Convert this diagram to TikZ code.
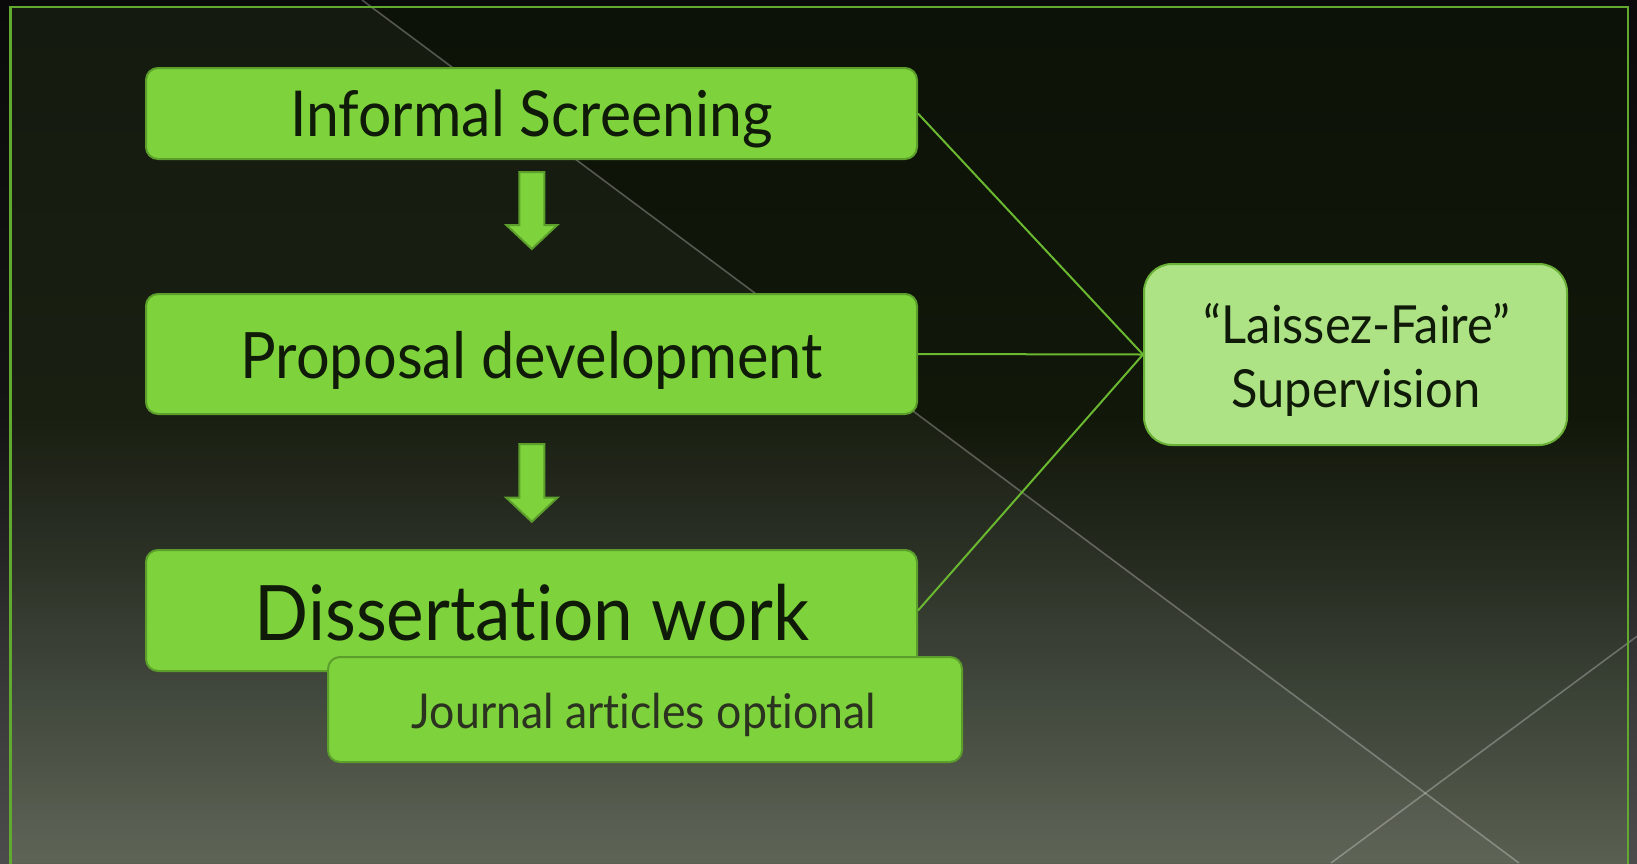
\documentclass[tikz,border=0pt]{standalone}
\usepackage{fontspec}
\setmainfont{Lato}[FakeStretch=0.93,Ligatures=NoCommon]
\usetikzlibrary{calc}
\definecolor{boxfill}{HTML}{7ED23C}
\definecolor{boxline}{HTML}{5C9E2C}
\definecolor{supfill}{HTML}{AEE385}
\definecolor{supline}{HTML}{6AAF36}
\definecolor{framegreen}{HTML}{62A92F}
\definecolor{linkgreen}{HTML}{6AB830}
\definecolor{txtdark}{HTML}{0F1A08}
\definecolor{txtgray}{HTML}{2B3320}
\definecolor{inA}{HTML}{596051}
\definecolor{inB}{HTML}{3C4337}
\definecolor{inC}{HTML}{262B20}
\definecolor{inD}{HTML}{111709}
\definecolor{inE}{HTML}{0C1207}
\definecolor{outA}{HTML}{4C4C4C}
\definecolor{outB}{HTML}{3A3A3A}
\definecolor{outC}{HTML}{262626}
\definecolor{outD}{HTML}{141414}
\definecolor{outE}{HTML}{0A0A0A}
\pgfdeclareverticalshading{insidebg}{100bp}{color(0bp)=(inA); color(25bp)=(inA); color(34.5bp)=(inB); color(42.5bp)=(inC); color(51bp)=(inD); color(75bp)=(inE); color(100bp)=(inE)}
\pgfdeclareverticalshading{outsidebg}{100bp}{color(0bp)=(outA); color(25bp)=(outA); color(34.5bp)=(outB); color(42.5bp)=(outC); color(51bp)=(outD); color(75bp)=(outE); color(100bp)=(outE)}
\tikzset{
  box/.style={draw=boxline, line width=2pt, fill=boxfill, rounded corners=12pt, inner sep=0pt},
  supbox/.style={draw=supline, line width=2pt, fill=supfill, rounded corners=28pt, inner sep=0pt},
  txt/.style={inner sep=0pt, text=txtdark, anchor=base},
  link/.style={draw=linkgreen, line width=2pt},
  blockarrow/.style={draw=boxline, line width=2pt, fill=boxfill, line join=miter},
  deco/.style={draw=white, opacity=0.28, line width=1.6pt}
}
\newcommand\blkarrow[4]{\draw[blockarrow] (#1-12.5,#2) -- (#1+12.5,#2) -- (#1+12.5,#3) -- (#1+25.5,#3) -- (#1,#4) -- (#1-25.5,#3) -- (#1-12.5,#3) -- cycle;}
\begin{document}
\begin{tikzpicture}[x=1pt,y=-1pt]
\useasboundingbox (0,0) rectangle (1637,863);
% background
\shade[shading=outsidebg] (0,0) rectangle (1637,863);
\shade[shading=insidebg] (10.3,7) rectangle (1628,863);
\fill[white, opacity=0.035] (10.3,7) -- (371.4,7) -- (1519,863) -- (10.3,863) -- cycle;
\draw[deco] (362,0) -- (1519,863);
\draw[deco] (1637,636.3) -- (1331,863);
\draw[framegreen, line width=2.4pt] (10.3,880) -- (10.3,7) -- (1628,7) -- (1628,880);
% boxes
\node[box, minimum width=771pt, minimum height=91pt] (b1) at (531.5,113.5) {};
\node[box, minimum width=771pt, minimum height=120pt] (b2) at (531.5,354) {};
\node[box, minimum width=771pt, minimum height=121pt] (b3) at (531.5,610.5) {};
\node[box, minimum width=634pt, minimum height=105pt] (b4) at (645,709.5) {};
\node[supbox, minimum width=423pt, minimum height=181pt] (b5) at (1355.5,354.5) {};
% texts
\node[txt, font=\fontsize{63.3}{72}\selectfont] (t1) at (531.5,136) {Informal Screening};
\node[txt, font=\fontsize{64}{74}\selectfont] (t2) at (531.5,378) {Proposal development};
\node[txt, font=\fontsize{76.5}{88}\selectfont] (t3) at (532,640) {Dissertation work};
\node[txt, text=txtgray, font=\fontsize{48}{56}\selectfont] (t4) at (644,728.5) {Journal articles optional};
\node[txt, font=\fontsize{52.5}{62}\selectfont] (t5) at (1357,343.5) {“Laissez-Faire”};
\node[txt, font=\fontsize{52.5}{62}\selectfont] (t6) at (1356,407) {Supervision};
% block arrows
\blkarrow{531.8}{172}{225}{249}
\blkarrow{531.8}{444}{497.7}{521.7}
% connectors
\draw[link] (b1.east) -- (b5.west);
\draw[link] (b2.east) -- (b5.west);
\draw[link] (b3.east) -- (b5.west);
\end{tikzpicture}
\end{document}
